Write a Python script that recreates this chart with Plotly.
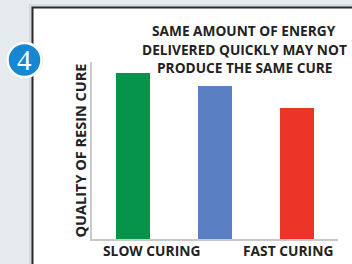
import plotly.graph_objects as go

# ---- data ----
categories = ["Slow 1", "Slow 2", "Fast"]
quality = [94, 86.5, 74]
bar_colors = ["#06934a", "#5a7fc3", "#ea3528"]
x_labels = ["SLOW CURING", "FAST CURING"]
x_label_pos = [0.23, 1.89]
title_lines = ["SAME AMOUNT OF ENERGY", "DELIVERED QUICKLY MAY NOT", "PRODUCE THE SAME CURE"]
y_title = "QUALITY OF RESIN CURE"
badge_text = "4"

W, H = 352, 264
L, R, T, B = 92, 14, 62, 25
pw, ph = W - L - R, H - T - B

def px(x):
    return (x - L) / pw

def py(y):
    return (H - B - y) / ph

FONT = "Open Sans"
fig = go.Figure()
fig.add_trace(go.Bar(
    x=list(range(len(categories))), y=quality,
    marker=dict(color=bar_colors, line=dict(width=0)),
    width=0.41, hoverinfo="skip", showlegend=False,
))

shapes = [
    # shadow + white panel
    dict(type="rect", xref="paper", yref="paper", layer="below",
         x0=px(29), x1=px(360), y0=py(275), y1=py(4),
         fillcolor="#d5dae0", line=dict(width=0)),
    dict(type="rect", xref="paper", yref="paper", layer="below",
         x0=px(32.5), x1=px(360), y0=py(275), y1=py(7.5),
         fillcolor="white", line=dict(color="#2a2a2a", width=2)),
    # badge
    dict(type="circle", xref="paper", yref="paper", layer="above",
         x0=px(24.5 - 18.5), x1=px(24.5 + 18.5), y0=py(60 + 18.5), y1=py(60 - 18.5),
         fillcolor="#d0d6dd", line=dict(width=0)),
    dict(type="circle", xref="paper", yref="paper", layer="above",
         x0=px(24.5 - 17), x1=px(24.5 + 17), y0=py(60 + 17), y1=py(60 - 17),
         fillcolor="#1787d2", line=dict(color="white", width=2.5)),
]

annotations = []
for i, line in enumerate(title_lines):
    annotations.append(dict(
        text="<b>%s</b>" % line, xref="paper", yref="paper",
        x=px(244), y=py(30.5 + 18.7 * i), xanchor="center", yanchor="middle",
        showarrow=False, font=dict(family=FONT, size=13.7, color="#222222")))
for lab, pos in zip(x_labels, x_label_pos):
    annotations.append(dict(
        text="<b>%s</b>" % lab, xref="x", yref="paper", x=pos, y=py(250.5),
        xanchor="center", yanchor="middle", showarrow=False,
        font=dict(family=FONT, size=13.8, color="#222222")))
annotations.append(dict(
    text="<b>%s</b>" % y_title, xref="paper", yref="paper", x=px(80), y=py(150.5),
    xanchor="center", yanchor="middle", textangle=-90, showarrow=False,
    font=dict(family=FONT, size=14.5, color="#222222")))
annotations.append(dict(
    text=badge_text, xref="paper", yref="paper", x=px(24.5), y=py(60),
    xanchor="center", yanchor="middle", showarrow=False,
    font=dict(family="Liberation Serif", size=29, color="white")))

fig.update_layout(
    width=W, height=H,
    margin=dict(l=L, r=R, t=T, b=B, pad=0),
    paper_bgcolor="#e6ebf0", plot_bgcolor="white",
    xaxis=dict(range=[-0.5, 2.5], showticklabels=False, ticks="", showgrid=False,
               zeroline=False, showline=True, linecolor="#c9c9c9", linewidth=1.5, fixedrange=True),
    yaxis=dict(range=[0, 100], showticklabels=False, ticks="", showgrid=False,
               zeroline=False, showline=True, linecolor="#c9c9c9", linewidth=1.5, fixedrange=True),
    shapes=shapes, annotations=annotations, bargap=0,
)
fig.write_html("out.html", config=dict(displayModeBar=False),
               post_script="document.body.style.margin='0';document.body.style.overflow='hidden';")
